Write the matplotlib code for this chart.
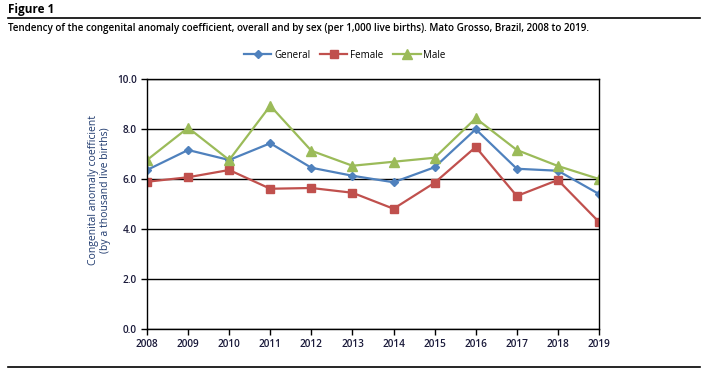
import matplotlib
matplotlib.use("Agg")
import matplotlib.pyplot as plt
from matplotlib.lines import Line2D

plt.rcParams["font.family"] = ["Open Sans", "DejaVu Sans"]

years = list(range(2008, 2020))
general = [6.36, 7.16, 6.76, 7.43, 6.45, 6.13, 5.87, 6.47, 7.99, 6.41, 6.33, 5.40]
female = [5.89, 6.07, 6.36, 5.61, 5.64, 5.45, 4.81, 5.85, 7.28, 5.32, 5.96, 4.28]
male = [6.76, 8.05, 6.76, 8.93, 7.13, 6.53, 6.69, 6.85, 8.43, 7.16, 6.52, 6.00]

fig = plt.figure(figsize=(7.07, 3.76), dpi=100)
ax = fig.add_axes([147 / 707, 1 - 329 / 376, 452 / 707, 250 / 376])

ax.plot(years, general, color="#4F81BD", marker="D", markersize=4.5, lw=1.6, label="General")
ax.plot(years, female, color="#C0504D", marker="s", markersize=6, lw=1.6, label="Female")
ax.plot(years, male, color="#9BBB59", marker="^", markersize=6.5, lw=1.6, label="Male")

ax.set_xlim(2008, 2019)
ax.set_ylim(0, 10)
ax.set_xticks(years)
ax.set_yticks([0, 2, 4, 6, 8, 10])
ax.set_yticklabels(["%.1f" % v for v in [0, 2, 4, 6, 8, 10]])
ax.grid(axis="y", color="black", lw=1)
ax.set_axisbelow(True)
for s in ax.spines.values():
    s.set_color("black")
    s.set_linewidth(1)
ax.tick_params(axis="both", labelsize=7.2, colors="black", labelcolor="#1a1a3a", length=4, width=1)
for lab in ax.get_xticklabels() + ax.get_yticklabels():
    lab.set_fontweight("semibold")

ax.set_ylabel("Congenital anomaly coefficient\n(by a thousand live births)", fontsize=7.5,
              color="#1F3A6E", linespacing=1.15)
ax.yaxis.set_label_coords(-0.08, 0.555)

ax.legend(loc="center", bbox_to_anchor=(345 / 707, 1 - 55 / 376), bbox_transform=fig.transFigure,
          ncol=3, frameon=False, fontsize=7, handlelength=2.8, columnspacing=1.0, handletextpad=0.3)

fig.text(8 / 707, 1 - 9 / 376, "Figure 1", fontsize=8.5, fontweight="bold", va="center", ha="left")
fig.add_artist(Line2D([8 / 707, 700 / 707], [1 - 18 / 376, 1 - 18 / 376], color="black", lw=1.2))
fig.text(8 / 707, 1 - 28 / 376,
         "Tendency of the congenital anomaly coefficient, overall and by sex (per 1,000 live births). "
         "Mato Grosso, Brazil, 2008 to 2019.",
         fontsize=7.1, fontweight="semibold", va="center", ha="left")
fig.add_artist(Line2D([8 / 707, 700 / 707], [1 - 367 / 376, 1 - 367 / 376], color="black", lw=1.2))

fig.savefig("out.png", dpi=100)
